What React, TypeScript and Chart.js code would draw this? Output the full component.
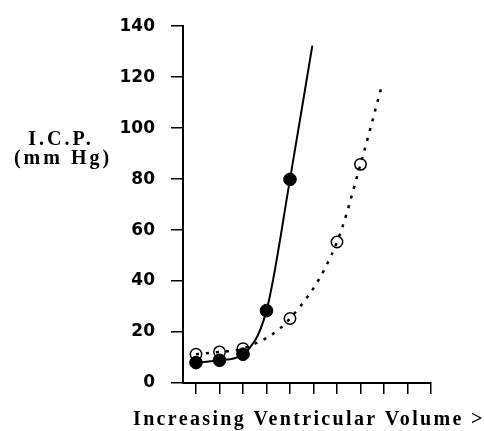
import { useEffect, useRef } from "react";
import { Chart, registerables } from "chart.js";

Chart.register(...registerables);

// ---- data ----
const xTicks = [1, 2, 3, 4, 5, 6, 7, 8, 9, 10, 11];
const yTicks = [0, 20, 40, 60, 80, 100, 120, 140];

// filled circles, solid curve
const normalVolume = [1, 2, 3, 4, 5];
const normalICP = [8.0, 8.9, 11.3, 28.4, 79.9];
const normalCurveEnd = { x: 5.95, y: 132.4 };

// open circles, dotted curve
const compliantVolume = [1, 2, 3, 5, 7, 8];
const compliantICP = [11.3, 12.2, 13.5, 25.3, 55.3, 85.8];
const compliantCurveEnd = { x: 8.87, y: 115.4 };

const yTitleLines = ["I.C.P.", "(mm Hg)"];
const xTitle = "Increasing Ventricular Volume >";

const W = 484;
const H = 431;

export default function App() {
  const ref = useRef<HTMLCanvasElement | null>(null);

  useEffect(() => {
    const canvas = ref.current;
    if (!canvas) return;

    const normalData = normalVolume
      .map((x, i) => ({ x, y: normalICP[i] }))
      .concat([normalCurveEnd]);
    const normalRadius = normalVolume.map(() => 6.3).concat([0]);

    const compliantData = compliantVolume
      .map((x, i) => ({ x, y: compliantICP[i] }))
      .concat([compliantCurveEnd]);
    const compliantRadius = compliantVolume.map(() => 5.7).concat([0]);

    const titlePlugin = {
      id: "titles",
      beforeDraw(chart: any) {
        (chart.ctx as any).letterSpacing = "0px";
      },
      afterDraw(chart: any) {
        const ctx = chart.ctx as any;
        ctx.save();
        ctx.fillStyle = "#000";
        ctx.textBaseline = "alphabetic";
        ctx.font = 'bold 20px "Liberation Serif"';
        ctx.letterSpacing = "3px";
        ctx.textAlign = "center";
        ctx.fillText(yTitleLines[0], 61, 145);
        ctx.fillText(yTitleLines[1], 63, 164);
        ctx.letterSpacing = "2.35px";
        ctx.textAlign = "left";
        ctx.fillText(xTitle, 133, 425);
        ctx.restore();
      },
    };

    const chart = new Chart(canvas, {
      type: "scatter",
      data: {
        datasets: [
          {
            label: "normal",
            data: normalData,
            showLine: true,
            borderColor: "#000",
            borderWidth: 2,
            cubicInterpolationMode: "monotone",
            pointRadius: normalRadius,
            pointBackgroundColor: "#000",
            pointBorderColor: "#000",
            pointBorderWidth: 1,
          },
          {
            label: "compliant",
            data: compliantData,
            showLine: true,
            borderColor: "#000",
            borderWidth: 2.5,
            borderDash: [3, 7],
            cubicInterpolationMode: "monotone",
            pointRadius: compliantRadius,
            pointBackgroundColor: "rgba(0,0,0,0)",
            pointBorderColor: "#000",
            pointBorderWidth: 1.5,
          },
        ],
      },
      options: {
        animation: false,
        responsive: false,
        devicePixelRatio: 1,
        events: [],
        layout: { padding: { top: 26, right: 53, bottom: 0, left: 0 } },
        plugins: {
          legend: { display: false },
          tooltip: { enabled: false },
          title: { display: false },
        },
        scales: {
          x: {
            type: "linear",
            min: 0.447,
            max: 11,
            afterFit: (scale: any) => {
              scale.height = 48;
            },
            afterBuildTicks: (scale: any) => {
              scale.ticks = xTicks.map((v) => ({ value: v }));
            },
            ticks: { display: false },
            grid: {
              display: true,
              drawOnChartArea: false,
              drawTicks: true,
              tickLength: 11,
              color: "#000",
              lineWidth: 1.5,
            },
            border: { display: true, color: "#000", width: 2 },
          },
          y: {
            type: "linear",
            min: 0,
            max: 140,
            afterFit: (scale: any) => {
              scale.width = 183;
            },
            afterBuildTicks: (scale: any) => {
              scale.ticks = yTicks.map((v) => ({ value: v }));
            },
            ticks: {
              color: "#000",
              padding: 16,
              font: { family: '"DejaVu Sans"', weight: "bold", size: 17 },
            },
            grid: {
              display: true,
              drawOnChartArea: false,
              drawTicks: true,
              tickLength: 12,
              color: "#000",
              lineWidth: 1.5,
            },
            border: { display: true, color: "#000", width: 2 },
          },
        },
      },
      plugins: [titlePlugin],
    });

    return () => chart.destroy();
  }, []);

  return (
    <div style={{ position: "absolute", left: 0, top: 0, width: W, height: H, background: "#fff" }}>
      <canvas ref={ref} width={W} height={H} style={{ display: "block", width: W, height: H }} />
    </div>
  );
}
